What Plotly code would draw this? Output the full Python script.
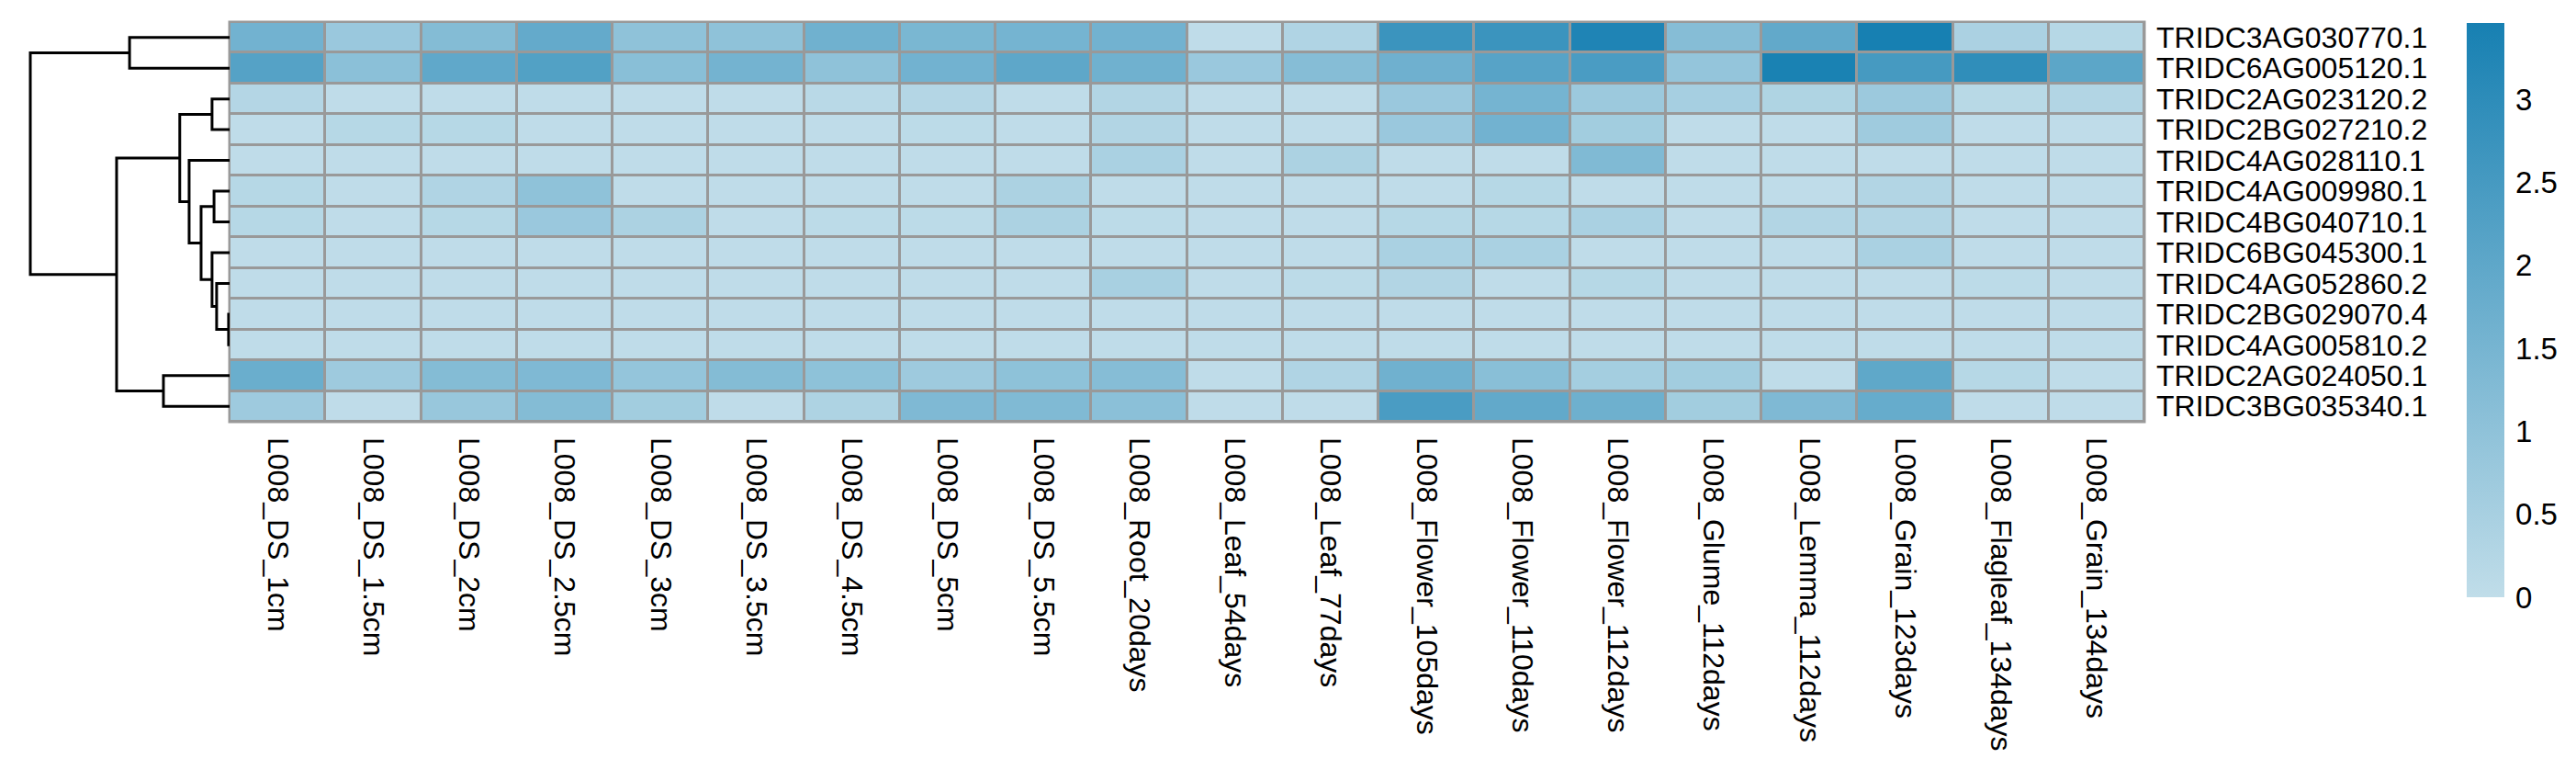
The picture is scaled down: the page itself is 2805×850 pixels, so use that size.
import plotly.graph_objects as go

# ---------------- data ----------------
genes = ["TRIDC3AG030770.1", "TRIDC6AG005120.1", "TRIDC2AG023120.2", "TRIDC2BG027210.2",
         "TRIDC4AG028110.1", "TRIDC4AG009980.1", "TRIDC4BG040710.1", "TRIDC6BG045300.1",
         "TRIDC4AG052860.2", "TRIDC2BG029070.4", "TRIDC4AG005810.2", "TRIDC2AG024050.1",
         "TRIDC3BG035340.1"]

samples = ["L008_DS_1cm", "L008_DS_1.5cm", "L008_DS_2cm", "L008_DS_2.5cm", "L008_DS_3cm",
           "L008_DS_3.5cm", "L008_DS_4.5cm", "L008_DS_5cm", "L008_DS_5.5cm", "L008_Root_20days",
           "L008_Leaf_54days", "L008_Leaf_77days", "L008_Flower_105days", "L008_Flower_110days",
           "L008_Flower_112days", "L008_Glume_112days", "L008_Lemma_112days", "L008_Grain_123days",
           "L008_Flagleaf_134days", "L008_Grain_134days"]

row_TRIDC3AG030770 = [1.60, 0.78, 1.23, 1.88, 1.00, 1.00, 1.64, 1.43, 1.54, 1.60,
                      0.02, 0.33, 2.72, 2.72, 3.30, 1.19, 1.92, 3.46, 0.43, 0.20]
row_TRIDC6AG005120 = [2.19, 1.09, 1.97, 2.25, 1.13, 1.56, 1.00, 1.60, 2.01, 1.64,
                      0.78, 1.19, 1.66, 2.15, 2.42, 0.90, 3.40, 2.50, 2.95, 2.05]
row_TRIDC2AG023120 = [0.25, 0.02, 0.02, 0.02, 0.02, 0.02, 0.14, 0.25, 0.02, 0.29,
                      0.02, 0.02, 0.78, 1.54, 0.74, 0.53, 0.35, 0.74, 0.16, 0.29]
row_TRIDC2BG027210 = [0.02, 0.20, 0.20, 0.02, 0.02, 0.02, 0.02, 0.08, 0.02, 0.29,
                      0.02, 0.02, 0.78, 1.60, 0.61, 0.02, 0.02, 0.68, 0.02, 0.02]
row_TRIDC4AG028110 = [0.02, 0.02, 0.02, 0.02, 0.02, 0.02, 0.02, 0.02, 0.02, 0.45,
                      0.02, 0.41, 0.02, 0.02, 1.31, 0.02, 0.02, 0.02, 0.02, 0.02]
row_TRIDC4AG009980 = [0.20, 0.02, 0.33, 1.00, 0.02, 0.02, 0.02, 0.02, 0.41, 0.02,
                      0.02, 0.02, 0.02, 0.20, 0.02, 0.02, 0.02, 0.29, 0.02, 0.02]
row_TRIDC4BG040710 = [0.20, 0.02, 0.20, 0.78, 0.41, 0.02, 0.08, 0.08, 0.41, 0.08,
                      0.02, 0.02, 0.20, 0.20, 0.45, 0.02, 0.29, 0.29, 0.02, 0.02]
row_TRIDC6BG045300 = [0.02, 0.02, 0.02, 0.02, 0.02, 0.02, 0.02, 0.02, 0.02, 0.02,
                      0.02, 0.02, 0.45, 0.45, 0.02, 0.02, 0.02, 0.45, 0.02, 0.02]
row_TRIDC4AG052860 = [0.02, 0.02, 0.02, 0.02, 0.02, 0.02, 0.02, 0.02, 0.02, 0.49,
                      0.02, 0.08, 0.29, 0.02, 0.20, 0.02, 0.02, 0.02, 0.08, 0.02]
row_TRIDC2BG029070 = [0.02, 0.02, 0.02, 0.02, 0.02, 0.02, 0.02, 0.02, 0.02, 0.02,
                      0.02, 0.02, 0.02, 0.02, 0.02, 0.02, 0.02, 0.02, 0.02, 0.02]
row_TRIDC4AG005810 = [0.02, 0.02, 0.02, 0.02, 0.02, 0.02, 0.02, 0.02, 0.02, 0.02,
                      0.02, 0.02, 0.02, 0.02, 0.02, 0.02, 0.02, 0.02, 0.02, 0.02]
row_TRIDC2AG024050 = [1.76, 0.70, 1.23, 1.33, 0.90, 1.23, 1.02, 0.70, 1.02, 1.19,
                      0.02, 0.33, 1.64, 1.13, 0.57, 0.61, 0.02, 1.99, 0.20, 0.02]
row_TRIDC3BG035340 = [0.70, 0.02, 0.82, 1.23, 0.61, 0.02, 0.37, 1.33, 1.31, 1.09,
                      0.02, 0.02, 2.42, 1.92, 1.68, 0.61, 1.33, 1.84, 0.02, 0.02]

values = [row_TRIDC3AG030770, row_TRIDC6AG005120, row_TRIDC2AG023120, row_TRIDC2BG027210,
          row_TRIDC4AG028110, row_TRIDC4AG009980, row_TRIDC4BG040710, row_TRIDC6BG045300,
          row_TRIDC4AG052860, row_TRIDC2BG029070, row_TRIDC4AG005810, row_TRIDC2AG024050,
          row_TRIDC3BG035340]

# row dendrogram merges (leaf indices 0..12 in display order; new clusters numbered 13..)
merge_left = [9, 8, 7, 5, 16, 4, 2, 19, 11, 20, 0, 23]
merge_right = [10, 13, 14, 6, 15, 17, 3, 18, 12, 21, 1, 22]
merge_height = [0.005, 0.065, 0.088, 0.078, 0.143, 0.203, 0.088, 0.25, 0.332, 0.567, 0.502, 1.0]

colorbar_ticks = [0, 0.5, 1, 1.5, 2, 2.5, 3]
zmin, zmax = 0, 3.46

# ---------------- layout geometry ----------------
W, H = 2805, 850
hm_l, hm_r, hm_t, hm_b = 242, 2327, 16, 451
dendro_px_per_unit = 217
dendro_max = 1.03
FONT = "Liberation Sans, Arial, sans-serif"
GREY = "#999999"

# dendrogram segments
n = len(genes)
pos = {i: (float(i), 0.0) for i in range(n)}
dx, dy = [], []
for k, (a, b, h) in enumerate(zip(merge_left, merge_right, merge_height)):
    ya, ha = pos[a]
    yb, hb = pos[b]
    dx += [ha, h, h, hb, None]
    dy += [ya, ya, yb, yb, None]
    pos[n + k] = ((ya + yb) / 2.0, h)

fig = go.Figure()

fig.add_trace(go.Heatmap(
    z=values, x=list(range(len(samples))), y=list(range(n)),
    zmin=zmin, zmax=zmax,
    colorscale=[[0, "#c0dde9"], [1, "#1780b2"]],
    xgap=3, ygap=3, xaxis="x", yaxis="y",
    colorbar=dict(
        x=2678 / W, xanchor="left", xpad=0,
        y=1 - 17 / H, yanchor="top", ypad=0,
        len=625, lenmode="pixels", thickness=41, thicknessmode="pixels",
        outlinewidth=0,
        tickvals=colorbar_ticks, ticktext=[f"{t:g}" for t in colorbar_ticks],
        ticks="outside", ticklen=6, tickcolor="rgba(0,0,0,0)",
        tickfont=dict(family=FONT, size=33, color="black"),
    ),
    hoverinfo="skip",
))

fig.add_trace(go.Scatter(
    x=dx, y=dy, mode="lines", xaxis="x2", yaxis="y",
    line=dict(color="black", width=3), hoverinfo="skip", showlegend=False,
))

fig.update_layout(
    width=W, height=H,
    margin=dict(l=0, r=0, t=0, b=0),
    paper_bgcolor="white", plot_bgcolor="rgba(0,0,0,0)",
    font=dict(family=FONT, size=32, color="black"),
    showlegend=False,
    xaxis=dict(
        domain=[hm_l / W, hm_r / W], range=[-0.5, len(samples) - 0.5],
        tickmode="array", tickvals=list(range(len(samples))), ticktext=samples,
        tickangle=90, ticks="", ticklabelstandoff=16, showgrid=False, zeroline=False,
        showline=False, anchor="y", automargin=False,
        tickfont=dict(family=FONT, size=32, color="black"),
    ),
    yaxis=dict(
        domain=[1 - hm_b / H, 1 - hm_t / H], range=[n - 0.5, -0.5],
        tickmode="array", tickvals=list(range(n)), ticktext=genes,
        side="right", ticks="", ticklabelstandoff=12, showgrid=False, zeroline=False,
        showline=False, anchor="x", automargin=False,
        tickfont=dict(family=FONT, size=32, color="black"),
    ),
    xaxis2=dict(
        domain=[(hm_l - dendro_max * dendro_px_per_unit) / W, hm_l / W],
        range=[dendro_max, 0], visible=False, anchor="y",
        showgrid=False, zeroline=False,
    ),
    shapes=[dict(
        type="rect", xref="paper", yref="paper",
        x0=hm_l / W, x1=hm_r / W, y0=1 - hm_b / H, y1=1 - hm_t / H,
        fillcolor=GREY, line=dict(color=GREY, width=3), layer="below",
    )],
)

fig.write_html("out.html")
